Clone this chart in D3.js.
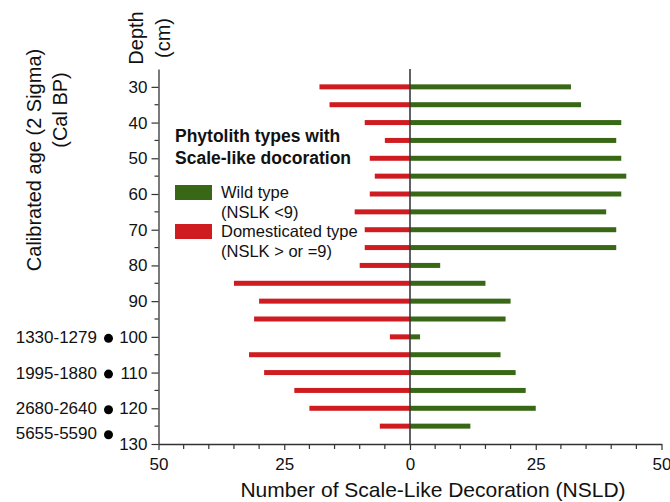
<!DOCTYPE html>
<html>
<head>
<meta charset="utf-8">
<script src="https://cdn.jsdelivr.net/npm/d3@7"></script>
<style>
  html, body { margin: 0; padding: 0; background: #fff; }
  svg { display: block; font-family: "Liberation Sans", Arial, sans-serif; }
</style>
</head>
<body>
<svg id="chart" width="670" height="502"></svg>
<script>
// Sample depths (cm)
const depths = [30, 35, 40, 45, 50, 55, 60, 65, 70, 75, 80, 85, 90, 95, 100, 105, 110, 115, 120, 125];
// Wild type counts (NSLK < 9)
const wildValues = [32, 34, 42, 41, 42, 43, 42, 39, 41, 41, 6, 15, 20, 19, 2, 18, 21, 23, 25, 12];
// Domesticated type counts (NSLK >= 9)
const domValues = [18, 16, 9, 5, 8, 7, 8, 11, 9, 9, 10, 35, 30, 31, 4, 32, 29, 23, 20, 6];
// Depth tick labels
const depthTicks = [30, 40, 50, 60, 70, 80, 90, 100, 110, 120, 130];
const depthMinorTicks = [35, 45, 55, 65, 75, 85, 95, 105, 115, 125];
// NSLD axis ticks
const countTicks = [-50, -25, 0, 25, 50];
const countMinorTicks = d3.range(-50, 51, 5);
// Radiocarbon dates (cal BP) at depth
const dateLabels = ["1330-1279", "1995-1880", "2680-2640", "5655-5590"];
const dateDepths = [100, 110, 120, 127];

const svg = d3.select("#chart");
const GREEN = "#386815";
const RED = "#cf1c21";
const AXIS = "#333";

const x = d3.scaleLinear().domain([-50, 50]).range([158.5, 661.5]);
const y = d3.scaleLinear().domain([25, 130]).range([69, 444]);
const barH = 5;

// Bars
const rows = depths.map((d, i) => ({ depth: d, wild: wildValues[i], dom: domValues[i] }));
svg.append("g").selectAll("rect.dom").data(rows).join("rect")
  .attr("class", "dom")
  .attr("x", d => x(-d.dom)).attr("width", d => x(0) - x(-d.dom))
  .attr("y", d => y(d.depth) - barH / 2).attr("height", barH)
  .attr("fill", RED);
svg.append("g").selectAll("rect.wild").data(rows).join("rect")
  .attr("class", "wild")
  .attr("x", x(0)).attr("width", d => x(d.wild) - x(0))
  .attr("y", d => y(d.depth) - barH / 2).attr("height", barH)
  .attr("fill", GREEN);

// Centre line
svg.append("line")
  .attr("x1", x(0)).attr("x2", x(0)).attr("y1", y(25)).attr("y2", y(130))
  .attr("stroke", "#3a3a3a").attr("stroke-width", 1.6);

// Left depth axis
const yAxis = svg.append("g").attr("transform", `translate(${x(-50)},0)`)
  .call(d3.axisLeft(y).tickValues(depthTicks).tickSize(7).tickPadding(4).tickSizeOuter(0));
yAxis.append("g").selectAll("line").data(depthMinorTicks).join("line")
  .attr("x1", -4).attr("x2", 0).attr("y1", d => y(d)).attr("y2", d => y(d))
  .attr("stroke", AXIS).attr("stroke-width", 1.2);

// Bottom count axis
const xAxis = svg.append("g").attr("transform", `translate(0,${y(130)})`)
  .call(d3.axisBottom(x).tickValues(countTicks).tickFormat(d => Math.abs(d)).tickSize(6).tickPadding(8).tickSizeOuter(0));
xAxis.append("g").selectAll("line").data(countMinorTicks.filter(v => !countTicks.includes(v))).join("line")
  .attr("x1", d => x(d)).attr("x2", d => x(d)).attr("y1", 0).attr("y2", 5)
  .attr("stroke", AXIS).attr("stroke-width", 1.2);

[yAxis, xAxis].forEach(g => {
  g.select(".domain").attr("stroke", AXIS).attr("stroke-width", 1.3);
  g.selectAll(".tick line").attr("stroke", AXIS).attr("stroke-width", 1.2);
  g.selectAll(".tick text").attr("fill", "#111").attr("font-size", 17)
    .attr("font-family", "Liberation Sans, Arial, sans-serif");
});

// Axis titles
svg.append("text").attr("transform", "translate(143,38) rotate(-90)")
  .attr("text-anchor", "middle").attr("font-size", 20).attr("fill", "#111").text("Depth");
svg.append("text").attr("transform", "translate(170,38) rotate(-90)")
  .attr("text-anchor", "middle").attr("font-size", 20).attr("fill", "#111").text("(cm)");
svg.append("text").attr("transform", "translate(41,160) rotate(-90)")
  .attr("text-anchor", "middle").attr("font-size", 20).attr("fill", "#111").text("Calibrated age (2 Sigma)");
svg.append("text").attr("transform", "translate(67,110) rotate(-90)")
  .attr("text-anchor", "middle").attr("font-size", 20).attr("fill", "#111").text("(Cal BP)");
svg.append("text").attr("x", 433).attr("y", 497)
  .attr("text-anchor", "middle").attr("font-size", 21).attr("fill", "#111")
  .text("Number of Scale-Like Decoration (NSLD)");

// Dates beside depth axis
const dates = dateLabels.map((t, i) => ({ label: t, depth: dateDepths[i] }));
const dg = svg.append("g");
dg.selectAll("text").data(dates).join("text")
  .attr("x", 97).attr("y", d => y(d.depth) + 6)
  .attr("text-anchor", "end").attr("font-size", 17).attr("fill", "#111")
  .text(d => d.label);
dg.selectAll("circle").data(dates).join("circle")
  .attr("cx", 108.5).attr("cy", d => y(d.depth) + 1.5).attr("r", 4.5).attr("fill", "#000");

// Legend
const legend = svg.append("g");
legend.append("text").attr("x", 175).attr("y", 142).attr("font-size", 17.5).attr("font-weight", "bold")
  .attr("fill", "#111").text("Phytolith types with");
legend.append("text").attr("x", 175).attr("y", 164).attr("font-size", 17.5).attr("font-weight", "bold")
  .attr("fill", "#111").text("Scale-like docoration");
const legendItems = [
  { color: GREEN, lines: ["Wild type", "(NSLK <9)"], top: 185 },
  { color: RED, lines: ["Domesticated type", "(NSLK > or =9)"], top: 224 }
];
legendItems.forEach(it => {
  legend.append("rect").attr("x", 175).attr("y", it.top).attr("width", 37).attr("height", 15).attr("fill", it.color);
  it.lines.forEach((l, j) => {
    legend.append("text").attr("x", 221).attr("y", it.top + 13 + j * 19.5)
      .attr("font-size", 16.5).attr("fill", "#111").text(l);
  });
});
</script>
</body>
</html>
